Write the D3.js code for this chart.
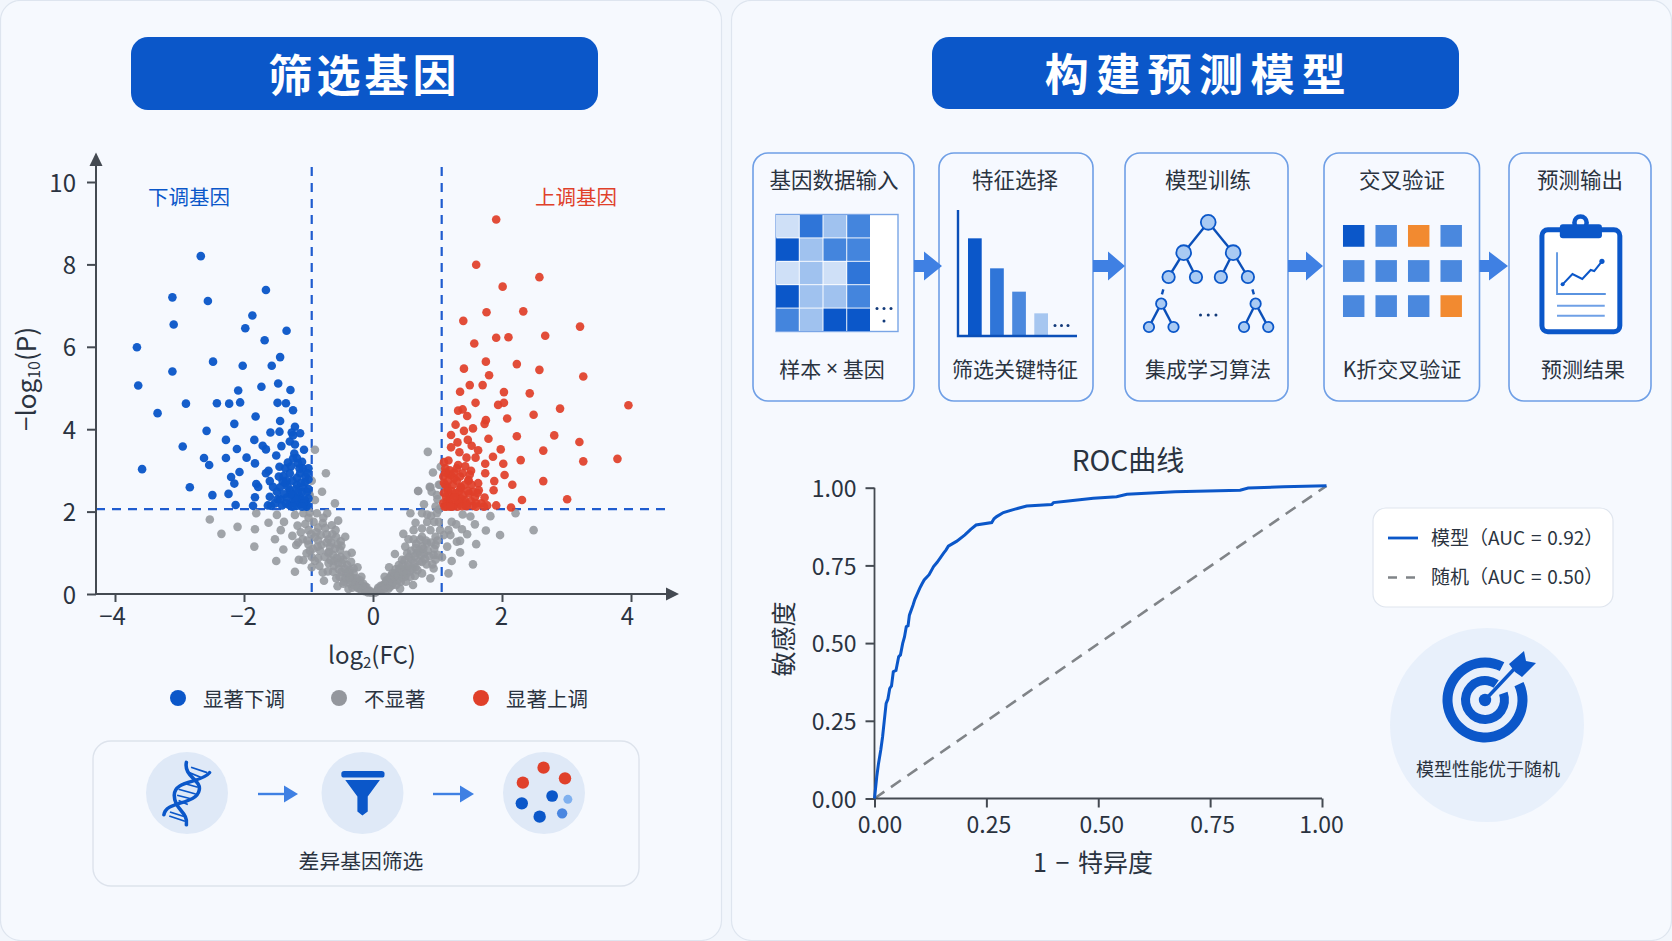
<!DOCTYPE html>
<html lang="zh">
<head>
<meta charset="utf-8">
<script src="https://cdn.jsdelivr.net/npm/d3@7"></script>
<style>
html,body{margin:0;padding:0;background:#f2f6fc}
svg{display:block}
text{font-family:"Noto Sans CJK SC","Noto Sans",sans-serif;fill:#2a3340}
</style>
</head>
<body>
<svg id="c" width="1672" height="941"></svg>
<script>
// ---------- volcano data: [log2(FC), -log10(P)] ----------
const downGenes = [[-2.67,8.20],[-3.11,7.20],[-2.56,7.11],[-1.66,7.38],[-1.87,6.76],[-3.09,6.54],[-1.98,6.45],[-1.34,6.39],[-1.68,6.16],[-3.66,5.99],[-1.44,5.75],[-2.48,5.64],[-2.02,5.54],[-1.57,5.54],[-3.11,5.40],[-3.64,5.06],[-1.73,5.03],[-1.47,5.11],[-1.28,4.95],[-2.09,4.94],[-2.90,4.62],[-2.42,4.63],[-2.23,4.62],[-2.06,4.65],[-1.48,4.64],[-1.35,4.63],[-1.24,4.46],[-3.34,4.39],[-1.82,4.31],[-1.44,4.20],[-2.15,4.13],[-1.21,4.06],[-2.58,3.96],[-1.59,3.92],[-1.45,3.94],[-1.26,3.92],[-1.13,3.90],[-1.24,3.85],[-2.28,3.74],[-1.84,3.74],[-1.71,3.60],[-1.66,3.51],[-1.42,3.59],[-1.29,3.70],[-1.21,3.63],[-1.07,3.50],[-2.11,3.52],[-1.22,3.41],[-1.50,3.36],[-1.24,3.29],[-2.28,3.30],[-1.96,3.31],[-1.83,3.17],[-1.32,3.19],[-2.54,3.13],[-1.16,3.17],[-1.10,3.21],[-1.45,3.09],[-1.62,2.99],[-1.66,2.93],[-2.07,2.96],[-1.02,2.93],[-1.13,2.93],[-1.29,2.93],[-1.39,2.86],[-1.60,2.74],[-2.15,2.68],[-1.81,2.67],[-1.78,2.60],[-1.36,2.69],[-1.44,2.59],[-1.49,2.48],[-1.18,2.65],[-1.08,2.60],[-1.29,2.52],[-1.16,2.48],[-1.02,2.48],[-2.24,2.43],[-2.49,2.40],[-1.83,2.35],[-1.60,2.36],[-1.34,2.34],[-1.13,2.36],[-1.00,2.32],[-1.21,2.24],[-2.13,2.16],[-1.86,2.14],[-1.63,2.15],[-1.58,2.14],[-1.41,2.15],[-1.30,2.16],[-1.13,2.18],[-1.02,2.16],[-3.58,3.03],[-2.84,2.59],[-2.95,3.58],[-2.62,3.30],[-2.20,2.84],[-1.34,2.75],[-1.24,2.40],[-1.05,2.72],[-1.15,2.30],[-1.27,2.20],[-1.05,2.25],[-1.48,2.30],
[-1.03,2.12],[-1.07,2.30],[-1.10,2.48],[-1.12,2.70],[-1.00,2.55],[-1.00,2.78],[-1.00,3.05],[-1.05,2.85],[-1.09,3.05],[-1.14,3.05],[-1.18,2.82],[-1.20,2.55],[-1.22,2.32],[-1.25,2.75],[-1.28,2.42],[-1.32,2.60],[-1.35,2.20],[-1.38,2.42],[-1.40,2.73],[-1.44,2.30],[-1.46,2.85],[-1.52,2.20],[-1.55,2.60],[-1.08,2.20],[-1.18,2.14],[-1.25,2.12],[-1.10,2.12],[-1.36,3.05],[-1.27,3.10],[-1.18,3.30]];
const upGenes = [[1.91,9.09],[1.60,7.99],[2.58,7.69],[2.01,7.46],[1.76,6.84],[2.33,6.86],[1.40,6.63],[3.21,6.49],[2.67,6.27],[1.91,6.22],[2.10,6.23],[1.57,6.08],[1.75,5.64],[1.41,5.47],[2.23,5.58],[2.58,5.44],[1.80,5.31],[3.26,5.28],[1.50,5.07],[1.70,5.07],[1.35,4.91],[2.03,4.90],[2.43,4.87],[1.59,4.64],[1.94,4.59],[2.03,4.64],[3.96,4.58],[2.90,4.50],[1.32,4.45],[1.39,4.48],[1.46,4.32],[2.49,4.35],[2.08,4.26],[1.75,4.22],[1.73,4.13],[1.28,4.11],[1.55,4.02],[1.41,3.96],[1.21,3.86],[2.81,3.85],[2.23,3.83],[1.79,3.77],[1.47,3.74],[3.20,3.69],[1.31,3.68],[1.53,3.60],[1.21,3.56],[1.98,3.51],[2.64,3.48],[1.63,3.49],[1.34,3.44],[1.86,3.33],[1.59,3.31],[1.45,3.31],[3.79,3.28],[2.29,3.25],[3.26,3.22],[1.17,3.24],[1.74,3.16],[2.02,3.16],[1.32,3.13],[1.12,3.05],[1.74,2.93],[2.04,2.89],[1.17,2.91],[1.39,2.93],[1.52,2.99],[1.26,2.81],[1.48,2.77],[1.88,2.74],[2.64,2.74],[2.16,2.65],[1.63,2.69],[1.12,2.65],[1.36,2.60],[1.87,2.52],[2.31,2.28],[1.91,2.15],[1.77,2.15],[2.14,2.10],[1.73,2.34],[1.64,2.52],[1.48,2.75],[1.36,2.57],[1.21,2.89],[1.49,2.44],[1.55,2.48],[1.29,2.36],[1.16,2.52],[1.13,2.36],[1.18,2.20],[1.31,2.20],[1.42,2.28],[1.43,2.15],[1.55,2.14],[1.11,2.12],[1.23,2.12],[1.31,2.12],[1.18,2.40],[1.36,2.32],[1.10,2.70],[3.01,2.30],
[1.09,2.20],[1.10,2.45],[1.09,2.85],[1.12,2.95],[1.14,2.25],[1.15,2.60],[1.17,2.75],[1.19,3.00],[1.20,2.30],[1.22,2.50],[1.24,2.65],[1.25,2.15],[1.26,2.95],[1.28,2.45],[1.30,2.75],[1.30,3.05],[1.33,2.25],[1.34,2.50],[1.35,2.85],[1.38,2.13],[1.40,2.40],[1.42,2.65],[1.43,3.10],[1.45,2.20],[1.47,2.50],[1.50,2.90],[1.52,2.25],[1.53,2.65],[1.58,2.35],[1.60,2.20],[1.62,2.45],[1.68,2.20],[1.72,2.12],[1.14,2.12],[1.20,2.12],[1.26,2.35],[1.45,2.13],[1.60,2.12],[1.10,3.20]];
const nsGenes = [[0.70,2.50],[0.89,2.59],[0.91,2.48],[0.79,2.18],[1.02,2.65],[0.99,2.40],[0.97,2.12],[0.58,1.96],[0.76,1.96],[0.84,1.93],[0.99,1.96],[1.39,1.93],[1.51,1.88],[1.82,1.89],[2.21,1.96],[1.58,1.69],[1.22,1.75],[0.66,1.73],[0.84,1.75],[1.29,1.69],[1.75,1.54],[1.97,1.43],[2.49,1.55],[1.38,1.57],[1.46,1.45],[0.47,1.46],[0.63,1.55],[0.76,1.59],[0.89,1.55],[1.04,1.55],[1.17,1.55],[1.20,1.43],[1.10,1.43],[0.97,1.39],[0.76,1.39],[0.63,1.33],[0.55,1.33],[1.35,1.29],[1.30,1.27],[1.60,1.21],[0.84,1.23],[0.97,1.19],[0.50,1.15],[0.66,1.12],[0.76,1.15],[1.15,1.15],[1.35,1.01],[0.34,0.97],[0.53,0.99],[0.68,0.99],[0.79,0.97],[0.94,0.95],[1.07,0.89],[1.22,0.80],[1.55,0.72],[0.97,0.83],[0.45,0.83],[0.60,0.83],[0.76,0.78],[0.25,0.65],[0.40,0.70],[0.53,0.66],[0.66,0.65],[0.94,0.62],[0.76,0.50],[1.17,0.50],[0.89,0.38],[0.65,0.44],[0.50,0.42],[0.37,0.46],[0.18,0.42],[0.29,0.34],[0.62,0.22],[0.42,0.13],[0.24,0.13],[0.14,0.18],[0.06,0.08],[0.30,0.50],[0.35,0.60],[0.32,0.35],[0.20,0.30],[0.12,0.20],[0.22,0.20],[0.28,0.45],[0.42,0.55],[0.45,0.40],[0.38,0.32],[0.50,0.60],[0.57,0.55],[0.30,0.22],[0.10,0.08],[0.03,0.03],[0.18,0.12],[0.08,0.15],[0.85,3.45],[0.93,2.95],[0.70,2.50],[0.88,2.60],[1.04,2.65],[1.05,3.09],
[0.05,0.05],[0.09,0.12],[0.13,0.10],[0.16,0.22],[0.19,0.18],[0.21,0.33],[0.24,0.27],[0.26,0.40],[0.27,0.18],[0.31,0.28],[0.33,0.42],[0.34,0.50],[0.36,0.22],[0.39,0.44],[0.41,0.62],[0.43,0.30],[0.46,0.72],[0.47,0.52],[0.49,0.82],[0.51,0.30],[0.52,0.50],[0.55,0.70],[0.56,0.90],[0.58,0.42],[0.59,1.05],[0.61,0.62],[0.64,0.75],[0.65,0.92],[0.67,1.22],[0.69,0.58],[0.71,1.05],[0.72,0.80],[0.73,1.32],[0.74,0.95],[0.78,1.10],[0.81,0.85],[0.82,1.30],[0.83,0.72],[0.85,1.05],[0.87,0.92],[0.90,1.25],[0.92,0.72],[0.95,1.10],[1.00,1.30],[1.00,0.95],[1.02,1.75],[1.02,2.05],[1.00,2.30],[0.95,1.75],[0.90,1.90],
[-0.79,2.48],[-0.59,2.20],[-0.90,2.28],[-0.71,1.96],[-0.87,1.96],[-0.54,1.78],[-0.78,1.72],[-0.64,1.67],[-0.85,1.61],[-0.43,1.39],[-0.57,1.38],[-0.69,1.33],[-0.81,1.43],[-0.90,1.38],[-0.80,1.19],[-0.67,1.15],[-0.49,1.17],[-0.33,1.00],[-0.62,0.95],[-0.51,1.07],[-0.85,0.87],[-0.69,0.75],[-0.54,0.75],[-0.46,0.83],[-0.24,0.65],[-0.95,0.65],[-0.78,0.52],[-0.62,0.54],[-0.49,0.54],[-0.36,0.58],[-0.76,0.32],[-0.55,0.19],[-0.38,0.12],[-0.43,0.38],[-0.31,0.38],[-0.18,0.42],[-0.25,0.18],[-0.12,0.18],[-0.05,0.08],[-1.21,0.54],[-1.50,0.80],[-1.15,0.83],[-1.39,1.08],[-1.84,1.15],[-1.52,1.33],[-1.19,1.19],[-1.03,0.99],[-1.09,1.33],[-1.25,1.41],[-1.43,1.55],[-1.17,1.66],[-1.83,1.57],[-1.62,1.73],[-1.38,1.75],[-1.21,1.92],[-1.81,1.96],[-1.49,1.92],[-1.08,1.96],[-1.00,1.55],[-1.00,1.85],[-1.00,1.20],[-2.53,1.81],[-2.35,1.46],[-2.10,1.63],[-0.90,3.50],[-0.73,2.93],[-0.95,2.75],[-0.98,2.40],[-0.70,1.00],[-0.60,0.80],[-0.50,0.90],[-0.40,0.70],[-0.42,0.50],[-0.35,0.45],[-0.30,0.50],[-0.28,0.30],[-0.22,0.28],[-0.15,0.25],[-0.20,0.12],[-0.10,0.10],[-0.03,0.03],[-0.08,0.04],[-0.55,1.20],[-0.72,1.45],[-0.85,1.30],[-0.65,1.25],[-0.58,1.55],[-0.95,0.90],[-0.35,0.25],[-0.32,0.15],[-0.14,0.12],[-0.45,0.30],[-0.52,0.42],
[-0.06,0.06],[-0.10,0.16],[-0.13,0.07],[-0.17,0.20],[-0.20,0.33],[-0.23,0.14],[-0.26,0.38],[-0.28,0.20],[-0.30,0.62],[-0.33,0.30],[-0.34,0.78],[-0.37,0.40],[-0.39,0.52],[-0.41,0.95],[-0.44,0.62],[-0.46,0.25],[-0.48,0.75],[-0.50,1.28],[-0.53,0.60],[-0.56,0.88],[-0.57,0.38],[-0.59,1.10],[-0.61,0.68],[-0.63,1.45],[-0.66,0.82],[-0.68,1.02],[-0.70,0.55],[-0.72,1.25],[-0.74,1.60],[-0.75,0.90],[-0.77,1.85],[-0.82,1.05],[-0.83,0.68],[-0.86,1.15],[-0.88,1.50],[-0.90,0.80],[-0.92,1.75],[-0.93,1.10],[-0.96,1.45],[-0.98,1.98],[-0.98,1.05],[-1.02,1.30],[-1.05,1.70],[-1.08,0.82],[-1.12,1.50],[-1.16,1.25]];
const volcanoXTicks = [-4,-2,0,2,4];
const volcanoYTicks = [0,2,4,6,8,10];
const fcCutoffs = [-0.95,1.065];
const pCutoff = 2.06;
const volcanoLegend = ["显著下调","不显著","显著上调"];

// ---------- ROC data ----------
const rocFpr = [0,0.005,0.009,0.014,0.018,0.022,0.026,0.030,0.034,0.038,0.042,0.048,0.054,0.058,0.063,0.067,0.071,0.075,0.078,0.086,0.090,0.101,0.106,0.111,0.122,0.132,0.140,0.154,0.160,0.165,0.184,0.202,0.215,0.227,0.262,0.267,0.273,0.288,0.314,0.340,0.396,0.400,0.433,0.489,0.541,0.564,0.672,0.817,0.835,0.914,1.01];
const rocTpr = [0,0.070,0.113,0.156,0.198,0.252,0.306,0.320,0.354,0.362,0.408,0.412,0.456,0.462,0.499,0.520,0.553,0.556,0.590,0.622,0.640,0.676,0.690,0.703,0.720,0.746,0.760,0.789,0.800,0.812,0.828,0.848,0.866,0.880,0.888,0.900,0.907,0.920,0.931,0.941,0.946,0.952,0.957,0.966,0.971,0.979,0.987,0.992,0.999,1.003,1.006];
const rocTicks = [0,0.25,0.5,0.75,1];
const rocLegend = ["模型（AUC = 0.92）","随机（AUC = 0.50）"];

// ---------- pipeline ----------
const stepTitles = ["基因数据输入","特征选择","模型训练","交叉验证","预测输出"];
const stepCaptions = ["样本 × 基因","筛选关键特征","集成学习算法","K折交叉验证","预测结果"];
const heatLevels = [[1,4,2,3],[5,2,3,3],[1,2,1,4],[5,2,2,3],[3,2,5,5]];
const featureBars = [290,200,130,65];
const foldFlags = [[2,1,3,1],[1,1,1,1],[1,1,1,3]];

const BLUE="#0b57c9", RED="#e0402a", GRAY="#94979d", ARROW="#3f80e3", AX="#444a52";
const svg=d3.select("#c");

// ---------- panels ----------
svg.append("rect").attr("width",1672).attr("height",941).attr("fill","#f2f6fc");
[[0.5,0.5,721,940],[731.5,0.5,940,940]].forEach(p=>{
  svg.append("rect").attr("x",p[0]).attr("y",p[1]).attr("width",p[2]).attr("height",p[3]).attr("rx",20)
    .attr("fill","#f6f9fe").attr("stroke","#dee5ef").attr("stroke-width",1.2);
});
function pill(x,y,w,h,t,ls,dx){
  svg.append("rect").attr("x",x).attr("y",y).attr("width",w).attr("height",h).attr("rx",17).attr("fill",BLUE);
  svg.append("text").attr("x",x+w/2+dx).attr("y",y+h/2-1).attr("text-anchor","middle").attr("dominant-baseline","central")
    .attr("font-size",44).attr("font-weight",700).attr("letter-spacing",ls).style("fill","#fff").text(t);
}
pill(131,37,467,73,"筛选基因",4,0);
pill(932,37,527,72,"构建预测模型",7.4,3.5);

// ---------- volcano ----------
const vx=d3.scaleLinear().domain([-4,4]).range([115,631]);
const vy=d3.scaleLinear().domain([0,10]).range([594,182]);
function axisStyle(g,size){
  g.selectAll(".domain").remove();
  g.selectAll("line").attr("stroke",AX).attr("stroke-width",2);
  g.selectAll("text").attr("font-size",size).style("fill","#2a3340");
}
const dash=svg.append("g").attr("stroke","#1f5ccf").attr("stroke-width",2.2).attr("stroke-dasharray","9 7").attr("fill","none");
fcCutoffs.forEach(c=>dash.append("line").attr("x1",vx(c)).attr("x2",vx(c)).attr("y1",167).attr("y2",vy(0)));
dash.append("line").attr("x1",96).attr("x2",666).attr("y1",vy(pCutoff)).attr("y2",vy(pCutoff));

function dots(data,color,op){
  svg.append("g").selectAll("circle").data(data).join("circle")
    .attr("cx",d=>vx(d[0])).attr("cy",d=>vy(d[1])).attr("r",4.3).attr("fill",color).attr("opacity",op);
}
dots(nsGenes,GRAY,0.88);
dots(downGenes,BLUE,0.96);
dots(upGenes,RED,0.93);

svg.append("g").attr("transform","translate(96,0)")
  .call(d3.axisLeft(vy).tickValues(volcanoYTicks).tickSize(9).tickPadding(11).tickFormat(d3.format("d")))
  .call(g=>axisStyle(g,24))
  .call(g=>g.selectAll("text").attr("dy","0.38em"));
const xLabelNudge={"-4":-3,"-2":-1,"0":0,"2":-1,"4":-4};
svg.append("g").attr("transform","translate(0,594)")
  .call(d3.axisBottom(vx).tickValues(volcanoXTicks).tickSize(8).tickPadding(6).tickFormat(d3.format("d")))
  .call(g=>axisStyle(g,24))
  .call(g=>g.selectAll("text").attr("dx",d=>xLabelNudge[d]));
svg.append("line").attr("x1",96).attr("x2",96).attr("y1",160).attr("y2",594).attr("stroke",AX).attr("stroke-width",2);
svg.append("line").attr("x1",96).attr("x2",672).attr("y1",594).attr("y2",594).attr("stroke",AX).attr("stroke-width",2);
svg.append("path").attr("d","M96 152.5L102.5 166H89.5Z").attr("fill",AX);
svg.append("path").attr("d","M679 594L666 587.5V600.5Z").attr("fill",AX);

const xt=svg.append("text").attr("x",372).attr("y",664).attr("text-anchor","middle").attr("font-size",24);
xt.append("tspan").text("log");xt.append("tspan").attr("font-size",15).attr("dy",4).text("2");xt.append("tspan").attr("dy",-4).text("(FC)");
const yt=svg.append("text").attr("transform","translate(36,379) rotate(-90)").attr("text-anchor","middle").attr("font-size",26);
yt.append("tspan").text("−log");yt.append("tspan").attr("font-size",16).attr("dy",4).text("10");yt.append("tspan").attr("dy",-4).text("(P)");

svg.append("text").attr("x",148).attr("y",196).attr("dominant-baseline","central").attr("font-size",20.5).style("fill",BLUE).text("下调基因");
svg.append("text").attr("x",535).attr("y",196).attr("dominant-baseline","central").attr("font-size",20.5).style("fill",RED).text("上调基因");

const legendColors=[BLUE,GRAY,RED], legendDotX=[178,339,481];
volcanoLegend.forEach((t,i)=>{
  svg.append("circle").attr("cx",legendDotX[i]).attr("cy",698).attr("r",8).attr("fill",legendColors[i]);
  svg.append("text").attr("x",legendDotX[i]+25).attr("y",698).attr("dominant-baseline","central").attr("font-size",20.5).text(t);
});

// ---------- bottom-left box ----------
svg.append("rect").attr("x",93).attr("y",741).attr("width",546).attr("height",145).attr("rx",18)
  .attr("fill","#f6f9fe").attr("stroke","#dde3ec").attr("stroke-width",1.4);
[187,362.5,544].forEach(x=>svg.append("circle").attr("cx",x).attr("cy",793).attr("r",41).attr("fill","#dfe9f7"));
function thinArrow(x0,x1,xh,y,hh,sw){
  svg.append("line").attr("x1",x0).attr("x2",xh).attr("y1",y).attr("y2",y).attr("stroke",ARROW).attr("stroke-width",sw);
  svg.append("path").attr("d",`M${x1} ${y}L${xh} ${y-hh}V${y+hh}Z`).attr("fill",ARROW);
}
thinArrow(258,298,284,794,8.5,2.4);
thinArrow(433,474,460,794,8.5,2.4);
svg.append("text").attr("x",361).attr("y",860).attr("text-anchor","middle").attr("dominant-baseline","central").attr("font-size",20.8).text("差异基因筛选");

// DNA icon (coordinates in crop space)
const dna=svg.append("g").attr("transform","translate(90,730) scale(0.357,0.333)").attr("fill","none").attr("stroke",BLUE);
dna.append("path").attr("stroke-width",10).attr("stroke-linecap","round").attr("d","M270 97C262 140 312 150 306 180C298 226 212 212 207 255");
dna.append("path").attr("stroke-width",10).attr("stroke-linecap","round").attr("d","M335 128C312 160 236 150 236 196C236 240 276 245 270 285");
[[283,112,328,128],[278,128,310,142],[262,160,302,172],[248,178,296,192],[244,196,288,208],[248,212,274,224],[224,246,270,262],[222,258,266,274]].forEach(l=>
  dna.append("line").attr("x1",l[0]).attr("y1",l[1]).attr("x2",l[2]).attr("y2",l[3]).attr("stroke-width",5));

// funnel
const fun=svg.append("g").attr("transform","translate(90,730) scale(0.357,0.333)").attr("fill",BLUE);
fun.append("rect").attr("x",704).attr("y",123).attr("width",121).attr("height",20).attr("rx",8);
fun.append("path").attr("d","M715 150H812L778 200V245L763 257L749 245V200Z");

// scattered dots icon
const cluster=[[1270,113,18,RED],[1330,145,18,RED],[1212,158,18,RED],[1209,220,18,BLUE],[1294,198,17,BLUE],[1259,260,18,BLUE],[1322,250,15,"#4a86e0"],[1338,208,13,"#7fb0ef"]];
cluster.forEach(c=>svg.append("circle").attr("cx",90+c[0]/2.8).attr("cy",730+c[1]/3).attr("r",c[2]/2.9).attr("fill",c[3]));

// ---------- pipeline boxes ----------
const boxX=[[753,914],[939,1093],[1125,1288],[1324,1479.5],[1509,1651]];
const titleX=[834,1015,1208,1402,1580], capX=[832,1015,1208,1402,1583];
boxX.forEach((b,i)=>{
  svg.append("rect").attr("x",b[0]).attr("y",153).attr("width",b[1]-b[0]).attr("height",248).attr("rx",15)
    .attr("fill","#f6f9ff").attr("stroke","#6f9fe6").attr("stroke-width",1.6);
  svg.append("text").attr("x",titleX[i]).attr("y",178).attr("text-anchor","middle").attr("dominant-baseline","central").attr("font-size",21.5).text(stepTitles[i]);
  const cap=svg.append("text").attr("x",capX[i]).attr("y",368).attr("text-anchor","middle").attr("dominant-baseline","central").attr("font-size",21);
  stepCaptions[i].split(/(×)/).forEach(s=>{
    const ts=cap.append("tspan").text(s);
    if(s==="×") ts.style("font-family","'Noto Sans'");
  });
});
function blockArrow(x0,xh,x1,y){
  svg.append("path").attr("d",`M${x0} ${y-6}H${xh}V${y-14.5}L${x1} ${y}L${xh} ${y+14.5}V${y+6}H${x0}Z`).attr("fill",ARROW);
}
blockArrow(914,924,942,266);
blockArrow(1093,1108,1125,266);
blockArrow(1288,1306,1323,266);
blockArrow(1479.5,1489,1508,266);

// heatmap icon
const hx=d3.scaleBand().domain(d3.range(4)).range([776,870]).paddingInner(0.04);
const hy=d3.scaleBand().domain(d3.range(5)).range([215,331]).paddingInner(0.04);
const heatColor=d3.scaleOrdinal().domain([1,2,3,4,5]).range(["#cfe0f7","#a0c2ef","#4485dd","#2f75d8","#0b57c9"]);
svg.append("rect").attr("x",776).attr("y",214.5).attr("width",122).attr("height",117).attr("fill","#fff").attr("stroke","#7aa5e6").attr("stroke-width",1.4);
svg.append("g").selectAll("rect").data(heatLevels.flatMap((r,i)=>r.map((v,j)=>({i,j,v})))).join("rect")
  .attr("x",d=>hx(d.j)).attr("y",d=>hy(d.i)).attr("width",hx.bandwidth()).attr("height",hy.bandwidth()).attr("fill",d=>heatColor(d.v));
[[877,308.5],[884,308.5],[891,308.5],[884,321]].forEach(p=>svg.append("circle").attr("cx",p[0]).attr("cy",p[1]).attr("r",1.5).attr("fill","#123a7a"));

// feature bars icon
const bx=d3.scaleBand().domain(d3.range(4)).range([968,1048]).paddingInner(0.38).paddingOuter(0);
const by=d3.scaleLinear().domain([0,300]).range([335,235]);
const barColors=[BLUE,"#2f75d8","#4a88de","#a6c6f0"];
svg.append("g").selectAll("rect").data(featureBars).join("rect")
  .attr("x",(d,i)=>bx(i)).attr("y",d=>by(d)).attr("width",bx.bandwidth()).attr("height",d=>by(0)-by(d)).attr("fill",(d,i)=>barColors[i]);
svg.append("path").attr("d","M958 210V336H1077").attr("fill","none").attr("stroke","#0b4fb8").attr("stroke-width",2.4);
[1055,1061.5,1068].forEach(x=>svg.append("circle").attr("cx",x).attr("cy",325.5).attr("r",1.5).attr("fill","#123a7a"));

// tree icon
const TX=x=>1110+x/2.85, TY=y=>145+y/3;
const treeEdges=[[280,232,210,323],[280,232,351,323],[210,323,167,396],[210,323,245,396],[351,323,316,396],[351,323,393,396],[146,476,111,546],[146,476,181,546],[415,476,382,546],[415,476,451,546],[152,433,148,448],[406,433,410,448]];
const tree=svg.append("g");
treeEdges.forEach(e=>tree.append("line").attr("x1",TX(e[0])).attr("y1",TY(e[1])).attr("x2",TX(e[2])).attr("y2",TY(e[3])).attr("stroke","#0b4fb8").attr("stroke-width",2.4));
const treeNodes=[[280,232,7.4],[210,323,7.4],[351,323,7.4],[167,396,6.2],[245,396,6.2],[316,396,6.2],[393,396,6.2],[146,476,5.2],[111,546,5.2],[181,546,5.2],[415,476,5.2],[382,546,5.2],[451,546,5.2]];
treeNodes.forEach(n=>tree.append("circle").attr("cx",TX(n[0])).attr("cy",TY(n[1])).attr("r",n[2]).attr("fill","#a9caf3").attr("stroke",BLUE).attr("stroke-width",1.8));
[258,280,302].forEach(x=>tree.append("circle").attr("cx",TX(x)).attr("cy",TY(510)).attr("r",1.5).attr("fill","#123a7a"));

// k-fold grid icon
const kx=d3.scaleBand().domain(d3.range(4)).range([TX(664),TX(1003)]).paddingInner(0.34);
const ky=d3.scaleBand().domain(d3.range(3)).range([TY(240),TY(516)]).paddingInner(0.38);
const foldColor={1:"#4a88de",2:BLUE,3:"#f28a30"};
svg.append("g").selectAll("rect").data(foldFlags.flatMap((r,i)=>r.map((v,j)=>({i,j,v})))).join("rect")
  .attr("x",d=>kx(d.j)).attr("y",d=>ky(d.i)).attr("width",kx.bandwidth()).attr("height",ky.bandwidth()).attr("fill",d=>foldColor[d.v]);

// clipboard icon
const clip=svg.append("g");
clip.append("rect").attr("x",TX(1231)).attr("y",TY(254)).attr("width",(1453-1231)/2.85).attr("height",(560-254)/3).attr("rx",6).attr("fill","#fff").attr("stroke",BLUE).attr("stroke-width",5);
clip.append("circle").attr("cx",TX(1341)).attr("cy",TY(233)).attr("r",8.4).attr("fill",BLUE);
clip.append("circle").attr("cx",TX(1341)).attr("cy",TY(233)).attr("r",3.8).attr("fill","#f6f9ff");
clip.append("rect").attr("x",TX(1282)).attr("y",TY(238)).attr("width",120/2.85).attr("height",14).attr("rx",3).attr("fill",BLUE);
const cline=d3.line().x(d=>TX(d[0])).y(d=>TY(d[1]));
clip.append("path").attr("d",cline([[1274,322],[1274,447],[1413,447]])).attr("fill","none").attr("stroke","#5a93e0").attr("stroke-width",1.8);
clip.append("path").attr("d",cline([[1290,418],[1318,387],[1346,402],[1370,375],[1380,378],[1402,349]])).attr("fill","none").attr("stroke",BLUE).attr("stroke-width",2);
clip.append("circle").attr("cx",TX(1402)).attr("cy",TY(349)).attr("r",2.6).attr("fill",BLUE);
clip.append("circle").attr("cx",TX(1290)).attr("cy",TY(418)).attr("r",2).attr("fill",BLUE);
[482,512].forEach(y=>clip.append("line").attr("x1",TX(1274)).attr("x2",TX(1410)).attr("y1",TY(y)).attr("y2",TY(y)).attr("stroke","#6fa0e6").attr("stroke-width",2));

// ---------- ROC ----------
const rx=d3.scaleLinear().domain([0,1]).range([874.5,1322]);
const ry=d3.scaleLinear().domain([0,1]).range([798.5,487.7]);
svg.append("line").attr("x1",rx(0)).attr("y1",ry(0)).attr("x2",rx(1.01)).attr("y2",ry(1.006))
  .attr("stroke","#808488").attr("stroke-width",2.6).attr("stroke-dasharray","12 8");
const rocXNudge={0:5,0.25:2,0.5:3,0.75:2,1:-1};
svg.append("g").attr("transform","translate(0,798.5)")
  .call(d3.axisBottom(rx).tickValues(rocTicks).tickSize(9).tickPadding(9).tickFormat(d3.format(".2f")))
  .call(g=>axisStyle(g,23))
  .call(g=>g.selectAll("text").attr("dx",d=>rocXNudge[d]));
svg.append("g").attr("transform","translate(874.5,0)")
  .call(d3.axisLeft(ry).tickValues(rocTicks).tickSize(9).tickPadding(9).tickFormat(d3.format(".2f")))
  .call(g=>axisStyle(g,23))
  .call(g=>g.selectAll("text").attr("dy","0.38em"));
svg.append("line").attr("x1",874.5).attr("x2",874.5).attr("y1",ry(1)).attr("y2",ry(0)).attr("stroke",AX).attr("stroke-width",1.8);
svg.append("line").attr("x1",874.5).attr("x2",1322).attr("y1",ry(0)).attr("y2",ry(0)).attr("stroke",AX).attr("stroke-width",1.8);
svg.append("path").datum(rocFpr.map((f,i)=>[f,rocTpr[i]]))
  .attr("d",d3.line().x(d=>rx(d[0])).y(d=>ry(d[1]))).attr("fill","none").attr("stroke",BLUE).attr("stroke-width",3);

svg.append("text").attr("x",1128).attr("y",459).attr("text-anchor","middle").attr("dominant-baseline","central").attr("font-size",28).text("ROC曲线");
svg.append("text").attr("x",1093).attr("y",861).attr("text-anchor","middle").attr("dominant-baseline","central").attr("font-size",25).attr("word-spacing",3).text("1 − 特异度");
svg.append("text").attr("transform","translate(782,639) rotate(-90)").attr("text-anchor","middle").attr("dominant-baseline","central").attr("font-size",25).text("敏感度");

// ROC legend
svg.append("rect").attr("x",1373).attr("y",508).attr("width",240).attr("height",99).attr("rx",13).attr("fill","#fff").attr("stroke","#dfe5ee").attr("stroke-width",1.2);
svg.append("line").attr("x1",1388).attr("x2",1418).attr("y1",538).attr("y2",538).attr("stroke",BLUE).attr("stroke-width",2.8);
svg.append("line").attr("x1",1388).attr("x2",1418).attr("y1",577.5).attr("y2",577.5).attr("stroke","#808488").attr("stroke-width",2.4).attr("stroke-dasharray","9 9");
rocLegend.forEach((t,i)=>svg.append("text").attr("x",1431).attr("y",i?575.5:536).attr("dominant-baseline","central").attr("font-size",19).attr("word-spacing",1.6).text(t));

// target badge
svg.append("circle").attr("cx",1487).attr("cy",725).attr("r",97).attr("fill","#e8f0fb");
const tg=svg.append("g").attr("transform","translate(1485,700)");
const deg=Math.PI/180;
const arc=d3.arc();
tg.append("path").attr("fill",BLUE).attr("d",arc({innerRadius:32.5,outerRadius:42.5,startAngle:65*deg,endAngle:387*deg}));
tg.append("path").attr("fill",BLUE).attr("d",arc({innerRadius:15,outerRadius:24,startAngle:70*deg,endAngle:395*deg}));
tg.append("circle").attr("r",6.2).attr("fill",BLUE);
tg.append("line").attr("x1",0).attr("y1",0).attr("x2",31).attr("y2",-33).attr("stroke",BLUE).attr("stroke-width",3.4);
tg.append("path").attr("fill",BLUE).attr("d","M24 -36L39 -49L41 -39L51 -37L37 -23L30 -28Z");
svg.append("text").attr("x",1488).attr("y",768).attr("text-anchor","middle").attr("dominant-baseline","central").attr("font-size",18).text("模型性能优于随机");
</script>
</body>
</html>
